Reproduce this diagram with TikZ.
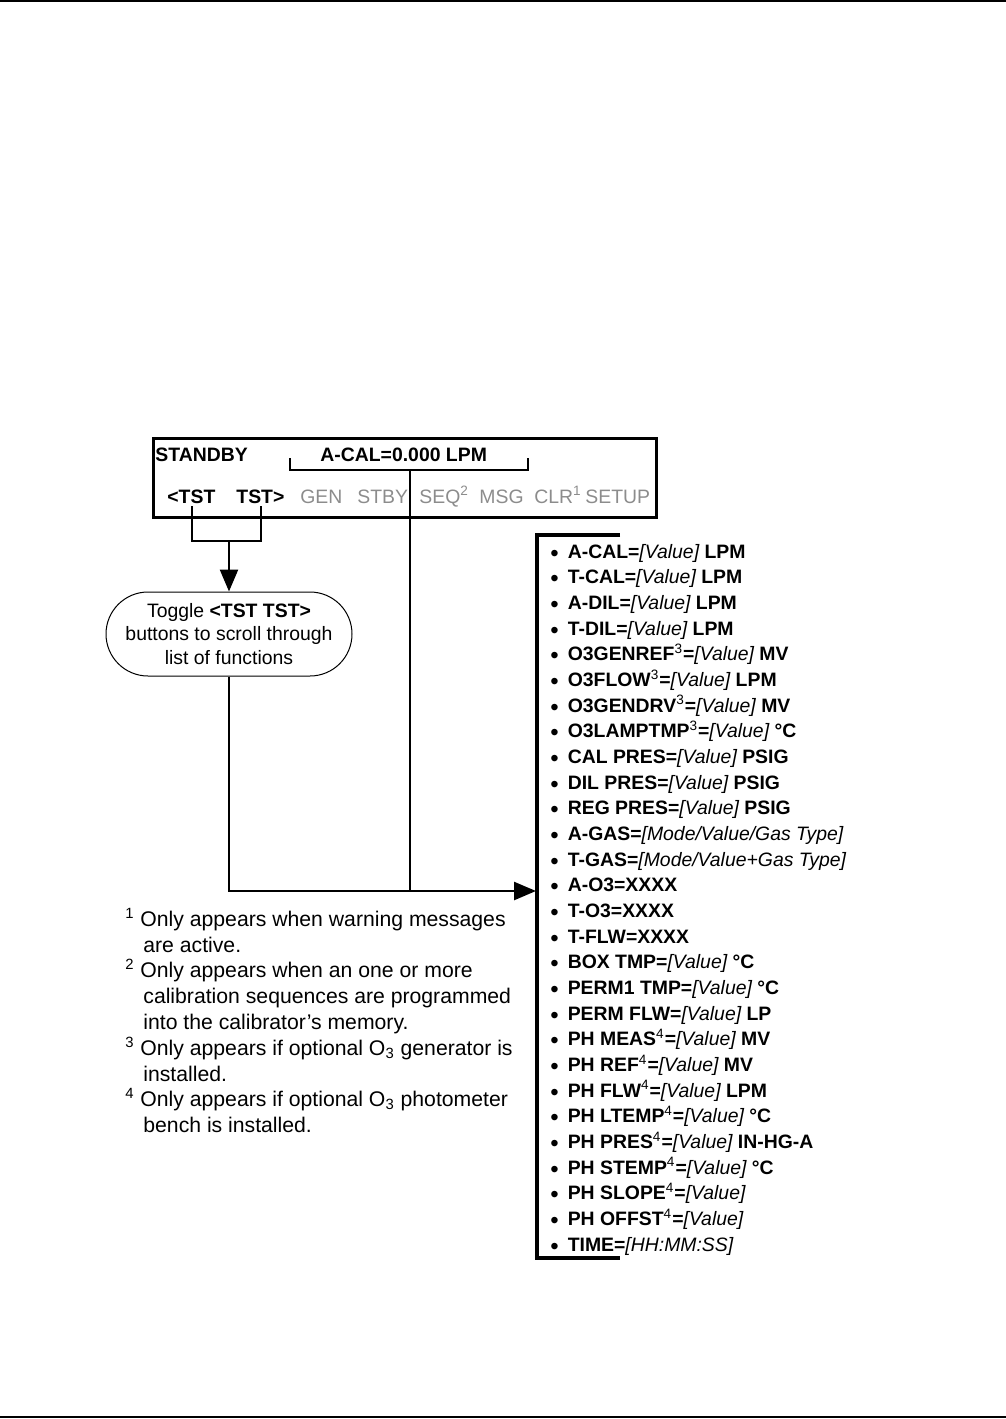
\documentclass[tikz,border=0pt]{standalone}
\usepackage{fontspec}
\setmainfont{Liberation Sans}
\usetikzlibrary{positioning,arrows.meta,shapes.misc}
\definecolor{keygray}{gray}{0.55}
\newcommand{\fieldval}[1]{{\mdseries\itshape[#1]}}
\newcommand{\supnum}[1]{\textsuperscript{\mdseries #1}}
\newcommand{\listdot}{\raisebox{-1.6pt}{\mdseries\fontsize{12}{12}\selectfont •}}

\begin{document}
\begin{tikzpicture}[x=0.5pt, y=-0.5pt,
  screen/.style={draw, line width=1.5pt, minimum width=251.5pt, minimum height=39.5pt,
                 anchor=north west, inner sep=0pt},
  disptext/.style={inner sep=0pt, anchor=base west, font=\fontsize{9.7}{12}\selectfont\bfseries},
  softkey/.style={disptext, text=keygray, font=\fontsize{9.7}{12}\selectfont},
  toggle/.style={rounded rectangle, draw, line width=0.5pt, minimum width=123pt,
                 minimum height=42pt, align=center, inner sep=0pt,
                 font=\fontsize{9.7}{11.75}\selectfont},
  listentry/.style={inner sep=0pt, anchor=base west, font=\fontsize{9.7}{12}\selectfont\bfseries},
  notetext/.style={inner sep=0pt, anchor=base west, align=left,
                   font=\fontsize{10.6}{12.9}\selectfont},
  wire/.style={line width=1.25pt},
  >={Triangle[width=9pt,length=11pt]}
]
  \useasboundingbox (0,0) rectangle (1006,1419);
  \draw[line width=0.75pt] (0,1) -- (1006,1);
  \draw[line width=0.75pt] (0,1417) -- (1006,1417);

  % front panel display
  \node[screen] (display) at (152,437) {};
  \node[disptext] (standby) at (155,461) {STANDBY};
  \node[disptext] (acal) at (320,461) {A-CAL=0.000 LPM};
  \node[disptext] (tstl) at (167,503) {<TST};
  \node[disptext] (tstr) at (236,503) {TST>};
  \node[softkey] (gen) at (300,503) {GEN};
  \node[softkey] (stby) at (357,503) {STBY};
  \node[softkey] (seq) at (419,503) {SEQ\textsuperscript{2}};
  \node[softkey] (msg) at (479,503) {MSG};
  \node[softkey] (clr) at (534,503) {CLR\textsuperscript{1}};
  \node[softkey] (setup) at (585,503) {SETUP};

  \coordinate (acalL) at (290,458);
  \coordinate (acalR) at (528,458);
  \coordinate (acalmid) at (410,470);
  \draw[wire] (acalL) -- (290,470) -- (528,470) -- (acalR);

  \coordinate (tstLbot) at (192,506);
  \coordinate (tstRbot) at (261,506);
  \coordinate (tstmid) at (229,541);
  \draw[wire] (tstLbot) -- (192,541) -- (261,541) -- (tstRbot);

  \node[toggle] (toggle) at (229,634) {Toggle \textbf{<TST TST>}\\buttons to scroll through\\list of functions};
  \draw[wire,->] (tstmid) -- (toggle.north);

  % list of test functions
  \coordinate (bartop) at (620,535);
  \coordinate (barbot) at (620,1258);
  \coordinate (barin) at (536,891);
  \coordinate (join) at (410,891);
  \draw[line width=1.75pt] (bartop) -- (537,535) -- (537,1258) -- (barbot);
  \draw[wire,->] (toggle.south) |- (barin);
  \draw[wire] (acalmid) -- (join);

  \foreach \txt [count=\i] in {
    {A-CAL=\fieldval{Value} LPM},
    {T-CAL=\fieldval{Value} LPM},
    {A-DIL=\fieldval{Value} LPM},
    {T-DIL=\fieldval{Value} LPM},
    {O3GENREF\supnum{3}=\fieldval{Value} MV},
    {O3FLOW\supnum{3}=\fieldval{Value} LPM},
    {O3GENDRV\supnum{3}=\fieldval{Value} MV},
    {O3LAMPTMP\supnum{3}=\fieldval{Value} °C},
    {CAL PRES=\fieldval{Value} PSIG},
    {DIL PRES=\fieldval{Value} PSIG},
    {REG PRES=\fieldval{Value} PSIG},
    {A-GAS=\fieldval{Mode/Value/Gas Type}},
    {T-GAS=\fieldval{Mode/Value+Gas Type}},
    {A-O3=XXXX},
    {T-O3=XXXX},
    {T-FLW=XXXX},
    {BOX TMP=\fieldval{Value} °C},
    {PERM1 TMP=\fieldval{Value} °C},
    {PERM FLW=\fieldval{Value} LP},
    {PH MEAS\supnum{4}=\fieldval{Value} MV},
    {PH REF\supnum{4}=\fieldval{Value} MV},
    {PH FLW\supnum{4}=\fieldval{Value} LPM},
    {PH LTEMP\supnum{4}=\fieldval{Value} °C},
    {PH PRES\supnum{4}=\fieldval{Value} IN-HG-A},
    {PH STEMP\supnum{4}=\fieldval{Value} °C},
    {PH SLOPE\supnum{4}=\fieldval{Value}},
    {PH OFFST\supnum{4}=\fieldval{Value}},
    {TIME=\fieldval{HH:MM:SS}}}
    \node[listentry] (item\i) at (550,{558+25.67*(\i-1)}) {\listdot\hspace{4.5pt}\txt};

  % footnotes (anchored at the baseline of their last line)
  \node[notetext] (note1) at (125,952)
    {\makebox[7.5pt][l]{\textsuperscript{1}}Only appears when warning messages\\\hspace*{9pt}are active.};
  \node[notetext] (note2) at (125,1029)
    {\makebox[7.5pt][l]{\textsuperscript{2}}Only appears when an one or more\\\hspace*{9pt}calibration sequences are programmed\\\hspace*{9pt}into the calibrator’s memory.};
  \node[notetext] (note3) at (125,1081)
    {\makebox[7.5pt][l]{\textsuperscript{3}}Only appears if optional O\textsubscript{3} generator is\\\hspace*{9pt}installed.};
  \node[notetext] (note4) at (125,1132)
    {\makebox[7.5pt][l]{\textsuperscript{4}}Only appears if optional O\textsubscript{3} photometer\\\hspace*{9pt}bench is installed.};
\end{tikzpicture}
\end{document}
